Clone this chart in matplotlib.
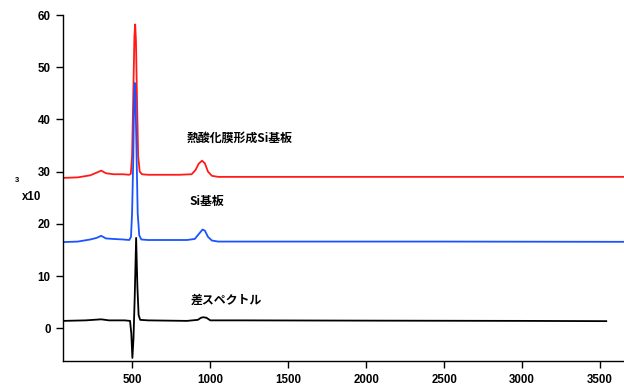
import matplotlib.pyplot as plt

plt.rcParams['font.family'] = ['Liberation Sans', 'Noto Sans CJK JP', 'DejaVu Sans']
plt.rcParams['font.weight'] = 'bold'

# wavenumber (cm-1) / intensity (x10^3) sample points for each spectrum
red_x = [55, 150, 230, 270, 300, 330, 380, 440, 480, 490, 498, 506, 513, 518, 523, 530,
         537, 547, 562, 600, 700, 800, 880, 905, 925, 947, 965, 985, 1010, 1050, 1200,
         1500, 2000, 2500, 3000, 3500, 3660]
red_y = [28.8, 28.9, 29.3, 29.8, 30.2, 29.7, 29.5, 29.5, 29.4, 29.6, 33.0, 45.0, 56.0,
         58.2, 55.0, 43.0, 33.0, 30.0, 29.5, 29.4, 29.4, 29.4, 29.5, 30.3, 31.5, 32.1,
         31.6, 30.0, 29.2, 29.0, 29.0, 29.0, 29.0, 29.0, 29.0, 29.0, 29.0]

blue_x = [55, 150, 230, 270, 300, 330, 380, 440, 480, 491, 498, 506, 511, 515, 520, 527,
          534, 544, 557, 600, 700, 850, 900, 925, 950, 965, 985, 1010, 1050, 1500, 2500,
          3660]
blue_y = [16.5, 16.6, 17.0, 17.3, 17.7, 17.2, 17.1, 17.0, 16.9, 17.5, 22.0, 33.0, 43.5,
          47.0, 44.0, 33.0, 22.0, 17.8, 17.0, 16.9, 16.9, 16.9, 17.1, 18.0, 18.9, 18.7,
          17.5, 16.8, 16.6, 16.6, 16.6, 16.55]

diff_x = [55, 200, 300, 350, 450, 485, 493, 500, 507, 515, 524, 532, 540, 550, 600, 850,
          920, 940, 955, 975, 1000, 1200, 2000, 3000, 3540]
diff_y = [1.4, 1.5, 1.7, 1.5, 1.5, 1.4, -1.0, -5.7, -2.0, 6.0, 17.3, 8.0, 2.5, 1.6, 1.5,
          1.4, 1.6, 2.0, 2.1, 2.0, 1.5, 1.5, 1.45, 1.4, 1.35]

labels = ['熱酸化膜形成Si基板', 'Si基板', '差スペクトル']
label_pos = [(845, 36.4), (865, 24.3), (872, 5.4)]

fig = plt.figure(figsize=(6.24, 3.87), dpi=100)
ax = fig.add_axes([0.101, 0.067, 0.899, 0.894])

ax.plot(red_x, red_y, color='#ff1a1a', linewidth=1.3)
ax.plot(blue_x, blue_y, color='#1a53ff', linewidth=1.3)
ax.plot(diff_x, diff_y, color='black', linewidth=1.3)

for text, (tx, ty) in zip(labels, label_pos):
    ax.text(tx, ty, text, fontsize=8.6, fontweight='bold', va='center', ha='left',
            family=['Noto Sans CJK JP', 'Liberation Sans'])

ax.set_xlim(55, 3654)
ax.set_ylim(-6.3, 60)
ax.set_xticks([500, 1000, 1500, 2000, 2500, 3000, 3500])
ax.set_yticks([0, 10, 20, 30, 40, 50, 60])

for side in ['top', 'right']:
    ax.spines[side].set_visible(False)
ax.spines['left'].set_linewidth(1)
ax.spines['bottom'].set_linewidth(1)
ax.tick_params(direction='out', length=5, width=1, labelsize=8.3, pad=4)
for lab in ax.get_xticklabels() + ax.get_yticklabels():
    lab.set_fontweight('bold')

fig.text(22 / 624, 1 - 197 / 387, 'x10', fontsize=8.3, fontweight='bold', va='center', ha='left')
fig.text(17 / 624, 1 - 181 / 387, '3', fontsize=5.5, fontweight='bold', va='center', ha='center')

plt.savefig('out.png', dpi=100)
